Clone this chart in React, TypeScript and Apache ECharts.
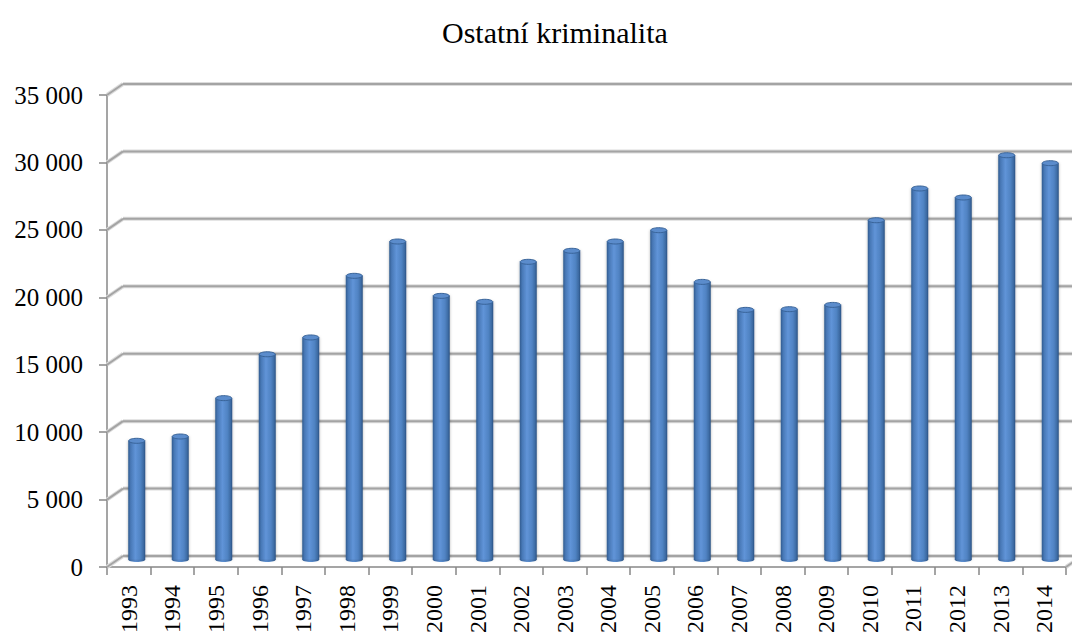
import React, { useEffect, useRef } from "react";
import * as echarts from "echarts";

const categories = [
  "1993", "1994", "1995", "1996", "1997", "1998", "1999", "2000", "2001", "2002", "2003",
  "2004", "2005", "2006", "2007", "2008", "2009", "2010", "2011", "2012", "2013", "2014",
];
const values = [
  8820, 9140, 11990, 15250, 16500, 21080, 23630, 19590, 19150, 22120, 22940,
  23630, 24470, 20630, 18550, 18600, 18920, 25210, 27570, 26900, 30040, 29450,
];
const yTicks = [0, 5000, 10000, 15000, 20000, 25000, 30000, 35000];
const titleText = "Ostatní kriminalita";

const FONT = "'Liberation Serif', 'Times New Roman', serif";

function fmt(v: number): string {
  return String(v).replace(/\B(?=(\d{3})+(?!\d))/g, " ");
}

export default function App() {
  const ref = useRef<HTMLDivElement>(null);
  useEffect(() => {
    if (!ref.current) return;
    const chart = echarts.init(ref.current, undefined, { renderer: "svg" });
    const DX = 16;
    const DY = 11;
    const haloStyle = { stroke: "#dcdcdc", lineWidth: 4 };
    const gridStyle = { stroke: "#a4a4a4", lineWidth: 2 };
    const barGrad = {
      type: "linear",
      x: 0,
      y: 0,
      x2: 1,
      y2: 0,
      colorStops: [
        { offset: 0, color: "#305b8e" },
        { offset: 0.14, color: "#4878b6" },
        { offset: 0.42, color: "#6094d8" },
        { offset: 0.72, color: "#5083c3" },
        { offset: 0.9, color: "#3d6ba3" },
        { offset: 1, color: "#2b5182" },
      ],
    };
    const option: any = {
      animation: false,
      backgroundColor: "#ffffff",
      title: {
        text: titleText,
        left: 437,
        top: 12,
        textStyle: { fontFamily: FONT, fontWeight: "normal", fontSize: 30, color: "#000" },
      },
      grid: [
        { left: 107, right: 6, top: 95, bottom: 69 },
        { left: 115, right: 0, top: 88.5, bottom: 76.5 },
      ],
      xAxis: [
        {
          type: "category",
          gridIndex: 0,
          data: categories,
          axisLine: { show: true, lineStyle: { color: "#878787", width: 1.5 } },
          axisTick: { show: true, length: 8, lineStyle: { color: "#878787", width: 1.5 } },
          axisLabel: {
            rotate: 90,
            margin: 18,
            fontFamily: FONT,
            fontSize: 24,
            color: "#000",
          },
          splitLine: { show: false },
        },
        { type: "category", gridIndex: 1, data: categories, show: false },
      ],
      yAxis: [
        {
          type: "value",
          gridIndex: 0,
          min: 0,
          max: 35000,
          interval: 5000,
          axisLine: { show: true, lineStyle: { color: "#878787", width: 1.5 } },
          axisTick: { show: true, length: 8, lineStyle: { color: "#878787", width: 1.5 } },
          axisLabel: {
            margin: 24,
            fontFamily: FONT,
            fontSize: 25,
            color: "#000",
            formatter: (v: number) => fmt(v),
          },
          splitLine: { show: false },
        },
        {
          type: "value",
          gridIndex: 1,
          min: 0,
          max: 35000,
          interval: 5000,
          show: false,
        },
      ],
      series: [
        {
          type: "custom",
          xAxisIndex: 0,
          yAxisIndex: 0,
          data: yTicks.map((v) => [0, v]),
          silent: true,
          z: 1,
          renderItem: (params: any, api: any) => {
            const v = api.value(1);
            const p = api.coord([0, v]);
            const cs = params.coordSys;
            const segs: number[][] = [
              [cs.x, p[1], cs.x + DX, p[1] - DY],
              [cs.x + DX, p[1] - DY, cs.x + cs.width + DX + 20, p[1] - DY],
            ];
            if (v === 0) {
              segs.push([cs.x + cs.width, p[1], cs.x + cs.width + DX, p[1] - DY]);
            }
            const children: any[] = [];
            segs.forEach((s) => {
              children.push({
                type: "line",
                shape: { x1: s[0], y1: s[1], x2: s[2], y2: s[3] },
                style: haloStyle,
              });
            });
            segs.forEach((s) => {
              children.push({
                type: "line",
                shape: { x1: s[0], y1: s[1], x2: s[2], y2: s[3] },
                style: gridStyle,
              });
            });
            return { type: "group", children };
          },
        },
        {
          type: "custom",
          xAxisIndex: 1,
          yAxisIndex: 1,
          data: values.map((v, i) => [i, v]),
          z: 3,
          renderItem: (params: any, api: any) => {
            const idx = api.value(0);
            const v = api.value(1);
            const top = api.coord([idx, v]);
            const base = api.coord([idx, 0]);
            const w = 17;
            const ry = 2.5;
            const cx = top[0];
            return {
              type: "group",
              children: [
                {
                  type: "ellipse",
                  shape: { cx, cy: base[1], rx: w / 2, ry },
                  style: { fill: barGrad },
                },
                {
                  type: "rect",
                  shape: { x: cx - w / 2, y: top[1], width: w, height: base[1] - top[1] },
                  style: {
                    fill: barGrad,
                    shadowColor: "rgba(0,0,0,0.3)",
                    shadowBlur: 3,
                  },
                },
                {
                  type: "ellipse",
                  shape: { cx, cy: top[1], rx: w / 2 - 0.5, ry },
                  style: { fill: "#5b8ccc", stroke: "#386398", lineWidth: 1 },
                },
              ],
            };
          },
        },
      ],
    };
    chart.setOption(option);
    return () => chart.dispose();
  }, []);
  return (
    <div
      ref={ref}
      style={{ position: "absolute", left: 0, top: 0, width: 1072, height: 636 }}
    />
  );
}
